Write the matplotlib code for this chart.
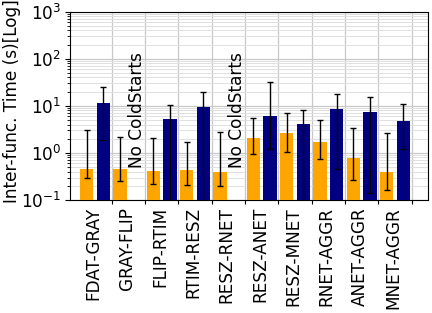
import numpy as np
import matplotlib
matplotlib.use("Agg")
import matplotlib.pyplot as plt

categories = ["FDAT-GRAY", "GRAY-FLIP", "FLIP-RTIM", "RTIM-RESZ", "RESZ-RNET",
              "RESZ-ANET", "RESZ-MNET", "RNET-AGGR", "ANET-AGGR", "MNET-AGGR"]
# orange series
orange_mean = [0.46, 0.46, 0.42, 0.435, 0.40, 2.08, 2.7, 1.71, 0.77, 0.39]
orange_low = [0.30, 0.25, 0.216, 0.21, 0.195, 0.97, 1.07, 0.76, 0.27, 0.166]
orange_high = [3.1, 2.19, 2.1, 1.69, 2.75, 5.6, 7.2, 5.0, 3.4, 2.62]
# navy series (NaN = no cold starts)
blue_mean = [11.3, np.nan, 5.2, 9.6, np.nan, 6.0, 4.07, 8.7, 7.5, 4.84]
blue_low = [1.86, np.nan, 0.01, 0.01, np.nan, 1.23, 0.01, 0.45, 0.144, 1.22]
blue_high = [24.8, np.nan, 10.3, 19.4, np.nan, 31.6, 8.3, 17.9, 15.2, 11.0]
no_cold_idx = [1, 4]
no_cold_text = "No ColdStarts"
ylabel = "Inter-func. Time (s)[Log]"

plt.rcParams['font.size'] = 12.2
fig = plt.figure(figsize=(4.32, 3.13), dpi=100)
ax = fig.add_axes([0.162, 0.361, 0.828, 0.602])

x = np.arange(len(categories))
w = 0.4
om = np.array(orange_mean)
bm = np.array(blue_mean)
oerr = [om - np.array(orange_low), np.array(orange_high) - om]
berr = [bm - np.array(blue_low), np.array(blue_high) - bm]

ax.bar(x - 0.25, om, w, color='orange', zorder=3)
ax.bar(x + 0.25, bm, w, color='navy', zorder=3)
ax.errorbar(x - 0.25, om, yerr=oerr, fmt='none', ecolor='black', elinewidth=1,
            capsize=2.5, capthick=1, zorder=4)
ax.errorbar(x + 0.25, bm, yerr=berr, fmt='none', ecolor='black', elinewidth=1,
            capsize=2.5, capthick=1, zorder=4)

for i in no_cold_idx:
    ax.text(i + 0.25, 0.48, no_cold_text, rotation=90, ha='center', va='bottom',
            fontsize=12.2, zorder=5)

ax.set_yscale('log')
ax.set_ylim(0.1, 1000)
ax.set_xlim(-0.75, 9.98)
ax.set_xticks(x + 0.5)
ax.set_xticklabels([])
ax.set_xticks(x - 0.05, minor=True)
ax.set_xticklabels(categories, minor=True, rotation=90)
ax.tick_params(axis='x', which='minor', length=0, pad=5)
ax.tick_params(axis='x', which='major', length=3)
ax.tick_params(axis='y', which='major', length=3.5, pad=3)
ax.set_ylabel(ylabel)
ax.yaxis.set_label_coords(-0.138, 0.526)
ax.grid(True, which='major', color='#c8c8c8', linewidth=0.9, zorder=0)
ax.grid(True, which='minor', axis='y', color='#e0e0e0', linewidth=0.7, zorder=0)
ax.set_axisbelow(True)

fig.savefig("out.png", dpi=100)
